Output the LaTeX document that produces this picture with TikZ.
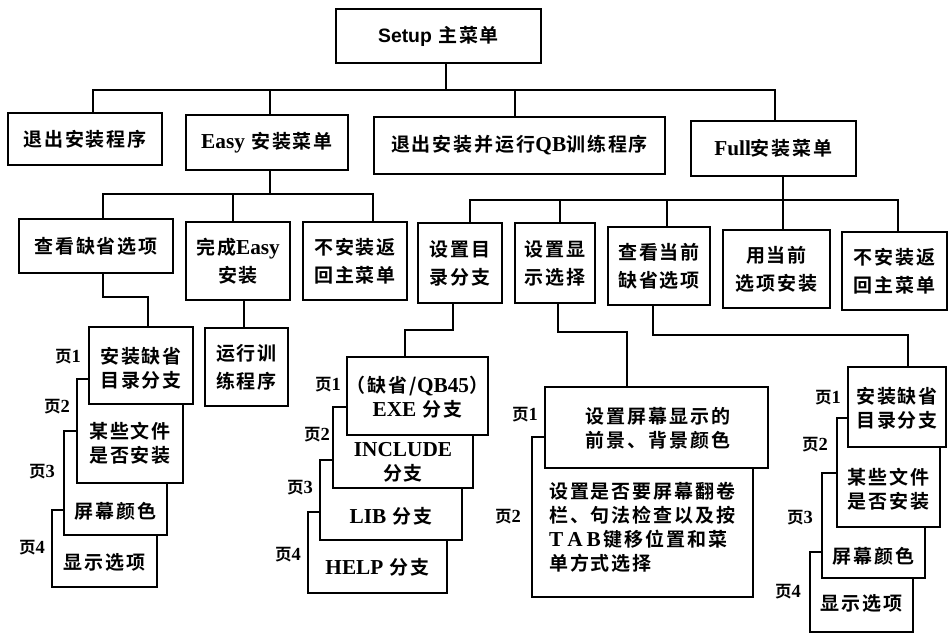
\documentclass[tikz,border=0pt]{standalone}
\usepackage{fontspec}
\setmainfont{Liberation Serif}
\newfontfamily\zhf{Noto Sans CJK SC}[BoldFont=* Bold, LetterSpace=10]
\newfontfamily\enf{Liberation Serif}[Scale=1.12]
\newfontfamily\snf{Liberation Sans}[Scale=1.02]
\newcommand{\eng}[1]{{\enf\bfseries #1}}
\begin{document}
\begin{tikzpicture}[x=1pt,y=-1pt,
  box/.style={draw,line width=1.8pt,fill=white,inner sep=0pt,align=center,
    font=\fontsize{19}{28}\selectfont\zhf\bfseries},
  page/.style={draw,line width=1.8pt,fill=white,inner sep=0pt},
  txt/.style={inner sep=0pt,align=center,font=\fontsize{19}{24}\selectfont\zhf\bfseries},
  lbl/.style={inner sep=0pt,font=\fontsize{16.5}{16.5}\selectfont\zhf\bfseries},
  con/.style={line width=1.2pt}]
\useasboundingbox (0,0) rectangle (949,635);

% ---- level 0 / 1
\node[box,minimum width=205pt,minimum height=54pt] (setup) at (438.5,36) {{\snf\bfseries Setup} 主菜单};
\node[box,minimum width=154pt,minimum height=52pt] (quit) at (85,139) {退出安装程序};
\node[box,minimum width=162pt,minimum height=55pt] (easy) at (267,142.5) {\eng{Easy} 安装菜单};
\node[box,minimum width=291pt,minimum height=57pt] (qb) at (519.5,145.5) {退出安装并运行\eng{QB}训练程序};
\node[box,minimum width=165pt,minimum height=55pt] (full) at (773.5,148.5) {\eng{Full}安装菜单};

% ---- level 2 (Easy)
\node[box,minimum width=154pt,minimum height=54pt] (chk) at (96,246) {查看缺省选项};
\node[box,minimum width=104pt,minimum height=78pt] (fin) at (238,261) {完成\eng{Easy}\\安装};
\node[box,minimum width=104pt,minimum height=78pt] (back1) at (355,261) {不安装返\\回主菜单};

% ---- level 2 (Full)
\node[box,minimum width=84pt,minimum height=80pt] (dir) at (460,263) {设置目\\录分支};
\node[box,minimum width=80pt,minimum height=80pt] (disp) at (555,263) {设置显\\示选择};
\node[box,minimum width=102pt,minimum height=78pt] (cur) at (659,266) {查看当前\\缺省选项};
\node[box,minimum width=107pt,minimum height=78pt] (use) at (776.5,269) {用当前\\选项安装};
\node[box,minimum width=105pt,minimum height=78pt] (back2) at (894.5,271) {不安装返\\回主菜单};

% ---- run training
\node[box,minimum width=83pt,minimum height=78pt] (run) at (246.5,367) {运行训\\练程序};

% ---- left page stack
\node[page,minimum width=105pt,minimum height=77pt] (L4) at (104.5,548.5) {};
\node[txt] (L4t) at (104.5,562) {显示选项};
\node[page,minimum width=103pt,minimum height=104pt] (L3) at (115.5,483) {};
\node[txt] (L3t) at (115.5,511) {屏幕颜色};
\node[page,minimum width=106pt,minimum height=104pt] (L2) at (130,431) {};
\node[txt] (L2t) at (130,443) {某些文件\\是否安装};
\node[page,minimum width=104pt,minimum height=77pt] (L1) at (141,365.5) {};
\node[txt] (L1t) at (141,368) {安装缺省\\目录分支};
\node[lbl] (L1l) at (68,357) {页\eng{1}};
\node[lbl] (L2l) at (57,407) {页\eng{2}};
\node[lbl] (L3l) at (42,472) {页\eng{3}};
\node[lbl] (L4l) at (32,548) {页\eng{4}};

% ---- directory page stack
\node[page,minimum width=139pt,minimum height=81pt] (D4) at (377.5,552.5) {};
\node[txt] (D4t) at (377.5,567) {\eng{HELP} 分支};
\node[page,minimum width=142pt,minimum height=80pt] (D3) at (391,500) {};
\node[txt] (D3t) at (391,516) {\eng{LIB} 分支};
\node[page,minimum width=140pt,minimum height=81pt] (D2) at (403,447.5) {};
\node[txt] (D2t) at (403,462) {\eng{INCLUDE}\\分支};
\node[page,minimum width=141pt,minimum height=78pt] (D1) at (417.5,396) {};
\node[txt] (D1t) at (417.5,397) {（缺省/\eng{QB45}）\\\eng{EXE} 分支};
\node[lbl] (D1l) at (328,385) {页\eng{1}};
\node[lbl] (D2l) at (317,435) {页\eng{2}};
\node[lbl] (D3l) at (300,488) {页\eng{3}};
\node[lbl] (D4l) at (288,555) {页\eng{4}};

% ---- display page stack
\node[page,minimum width=221pt,minimum height=160pt] (S2) at (642.5,517) {};
\node[txt,anchor=west,align=left] (S2t) at (549,527) {设置是否要屏幕翻卷\\栏、句法检查以及按\\\eng{T\hspace{4pt}A\hspace{4pt}B}\hspace{3pt}键移位置和菜\\单方式选择};
\node[page,minimum width=223pt,minimum height=81pt] (S1) at (656.5,427.5) {};
\node[txt] (S1t) at (658,428) {设置屏幕显示的\\前景、背景颜色};
\node[lbl] (S1l) at (525,415) {页\eng{1}};
\node[lbl] (S2l) at (508,517) {页\eng{2}};

% ---- right page stack
\node[page,minimum width=103pt,minimum height=80pt] (R4) at (861.5,592) {};
\node[txt] (R4t) at (861.5,603) {显示选项};
\node[page,minimum width=103pt,minimum height=105pt] (R3) at (873.5,525.5) {};
\node[txt] (R3t) at (873.5,556) {屏幕颜色};
\node[page,minimum width=103pt,minimum height=109pt] (R2) at (888.5,472.5) {};
\node[txt] (R2t) at (888.5,489) {某些文件\\是否安装};
\node[page,minimum width=98pt,minimum height=80pt] (R1) at (897,407) {};
\node[txt] (R1t) at (897,408) {安装缺省\\目录分支};
\node[lbl] (R1l) at (828,398) {页\eng{1}};
\node[lbl] (R2l) at (815,445) {页\eng{2}};
\node[lbl] (R3l) at (800,518) {页\eng{3}};
\node[lbl] (R4l) at (788,592) {页\eng{4}};

% ---- bus coordinates
\coordinate (busA) at (0,90);
\coordinate (busB) at (0,194);
\coordinate (busC) at (0,200);

% ---- connectors
\draw[con] (setup.south -| 446,0) -- (446,0 |- busA);
\draw[con] (quit.north -| 93,0) |- (775,0 |- busA) -- (full.north -| 775,0);
\draw[con] (easy.north -| 270,0) -- (270,0 |- busA);
\draw[con] (qb.north -| 515,0) -- (515,0 |- busA);

\draw[con] (easy.south -| 270,0) -- (270,0 |- busB);
\draw[con] (chk.north -| 103,0) |- (373,0 |- busB) -- (back1.north -| 373,0);
\draw[con] (fin.north -| 233,0) -- (233,0 |- busB);

\draw[con] (full.south -| 783,0) -- (use.north -| 783,0);
\draw[con] (dir.north -| 470,0) |- (898,0 |- busC) -- (back2.north -| 898,0);
\draw[con] (disp.north -| 560,0) -- (560,0 |- busC);
\draw[con] (cur.north -| 667,0) -- (667,0 |- busC);

\draw[con] (chk.south -| 103,0) |- (148,297) -- (L1.north -| 148,0);
\draw[con] (fin.south -| 244,0) -- (run.north -| 244,0);
\draw[con] (dir.south -| 453,0) |- (405,330) -- (D1.north -| 405,0);
\draw[con] (disp.south -| 558,0) |- (627,332) -- (S1.north -| 627,0);
\draw[con] (cur.south -| 653,0) |- (908,335) -- (R1.north -| 908,0);
\end{tikzpicture}
\end{document}
